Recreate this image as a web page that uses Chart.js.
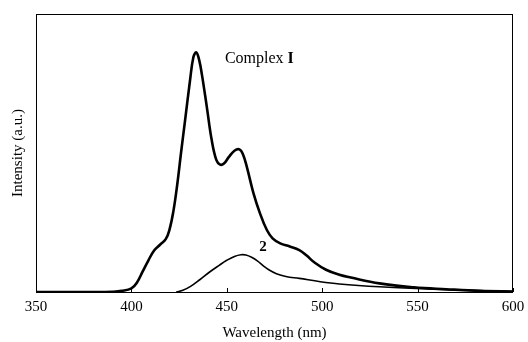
<!DOCTYPE html>
<html>
<head>
<meta charset="utf-8">
<script src="https://cdn.jsdelivr.net/npm/chart.js@4"></script>
<style>
  html, body { margin: 0; padding: 0; background: #fff; }
  #wrap { width: 528px; height: 342px; }
</style>
</head>
<body>
<div id="wrap"><canvas id="chart"></canvas></div>
<script>
// complex I emission (thick line)
const wlComplex = [350, 380, 390, 395, 400, 403, 406, 409, 412, 415, 418, 420, 422, 424, 426, 428, 430.7, 432.5, 434, 435.5, 437, 439.5, 442, 444.5, 446.5, 448.5, 451, 454, 456.6, 458.5, 460.5, 464, 467.4, 471, 474, 478, 483, 488, 492, 496, 502, 509, 515, 530, 548, 565, 583, 600];
const intComplex = [0, 0, 0.001, 0.004, 0.013, 0.035, 0.075, 0.115, 0.15, 0.17, 0.19, 0.225, 0.29, 0.385, 0.5, 0.61, 0.76, 0.845, 0.862, 0.835, 0.78, 0.667, 0.55, 0.475, 0.458, 0.462, 0.485, 0.508, 0.513, 0.495, 0.45, 0.355, 0.283, 0.223, 0.193, 0.175, 0.164, 0.151, 0.13, 0.106, 0.08, 0.062, 0.052, 0.031, 0.017, 0.01, 0.004, 0.002];

// compound 2 emission (thin line)
const wl2 = [423.5, 427, 431, 436, 441, 446, 450, 454, 457.5, 460, 463, 466, 469, 472, 476, 481, 488, 499, 509, 530, 555, 580, 600];
const int2 = [0, 0.006, 0.02, 0.045, 0.072, 0.096, 0.114, 0.128, 0.134, 0.133, 0.125, 0.112, 0.095, 0.08, 0.066, 0.056, 0.049, 0.037, 0.029, 0.019, 0.011, 0.005, 0.002];

const xTicks = [350, 400, 450, 500, 550, 600];

const serif = "'Liberation Serif', 'DejaVu Serif', serif";

const toPoints = (xs, ys) => xs.map((x, i) => ({ x, y: ys[i] }));

// frame, inward ticks and curve labels
const decor = {
  id: "decor",
  afterDraw(chart) {
    const { ctx, chartArea: a, scales } = chart;
    ctx.save();
    ctx.strokeStyle = "#000";
    ctx.lineWidth = 1;
    ctx.strokeRect(a.left + 0.5, a.top + 0.5, a.right - a.left - 1, a.bottom - a.top);
    ctx.beginPath();
    xTicks.forEach((t) => {
      const px = Math.round(scales.x.getPixelForValue(t)) + 0.5;
      ctx.moveTo(px, a.bottom);
      ctx.lineTo(px, a.bottom - 4);
    });
    ctx.stroke();

    ctx.fillStyle = "#000";
    ctx.textBaseline = "middle";
    ctx.textAlign = "left";
    const lx = scales.x.getPixelForValue(449);
    const ly = scales.y.getPixelForValue(0.84);
    ctx.font = "16px " + serif;
    const w = ctx.measureText("Complex ").width;
    ctx.fillText("Complex ", lx, ly);
    ctx.font = "bold 16px " + serif;
    ctx.fillText("I", lx + w, ly);

    ctx.font = "bold 15px " + serif;
    ctx.fillText("2", scales.x.getPixelForValue(467), scales.y.getPixelForValue(0.163));
    ctx.restore();
  },
};

new Chart(document.getElementById("chart"), {
  type: "line",
  data: {
    datasets: [
      {
        label: "Complex I",
        data: toPoints(wlComplex, intComplex),
        borderColor: "#000",
        borderWidth: 2.6,
        pointRadius: 0,
        tension: 0.4,
        fill: false,
      },
      {
        label: "2",
        data: toPoints(wl2, int2),
        borderColor: "#000",
        borderWidth: 1.6,
        pointRadius: 0,
        tension: 0.4,
        fill: false,
      },
    ],
  },
  options: {
    responsive: true,
    maintainAspectRatio: false,
    animation: false,
    layout: { padding: { top: 14, right: 15, left: 0, bottom: 0 } },
    plugins: { legend: { display: false }, tooltip: { enabled: false } },
    scales: {
      x: {
        type: "linear",
        min: 350,
        max: 600,
        afterBuildTicks: (s) => { s.ticks = xTicks.map((v) => ({ value: v })); },
        afterFit: (s) => { s.height = 50; s.paddingLeft = 0; s.paddingRight = 0; },
        grid: { display: false, drawTicks: false },
        border: { display: false },
        ticks: { color: "#000", padding: 6, maxRotation: 0, font: { family: serif, size: 15 } },
        title: {
          display: true,
          text: "Wavelength (nm)",
          color: "#000",
          padding: { top: 2, bottom: 0 },
          font: { family: serif, size: 15 },
        },
      },
      y: {
        min: 0,
        max: 1,
        afterFit: (s) => { s.width = 36; },
        grid: { display: false, drawTicks: false },
        border: { display: false },
        ticks: { display: false },
        title: {
          display: true,
          text: "Intensity (a.u.)",
          color: "#000",
          padding: { top: 9, bottom: 0 },
          font: { family: serif, size: 15 },
        },
      },
    },
  },
  plugins: [decor],
});
</script>
</body>
</html>
